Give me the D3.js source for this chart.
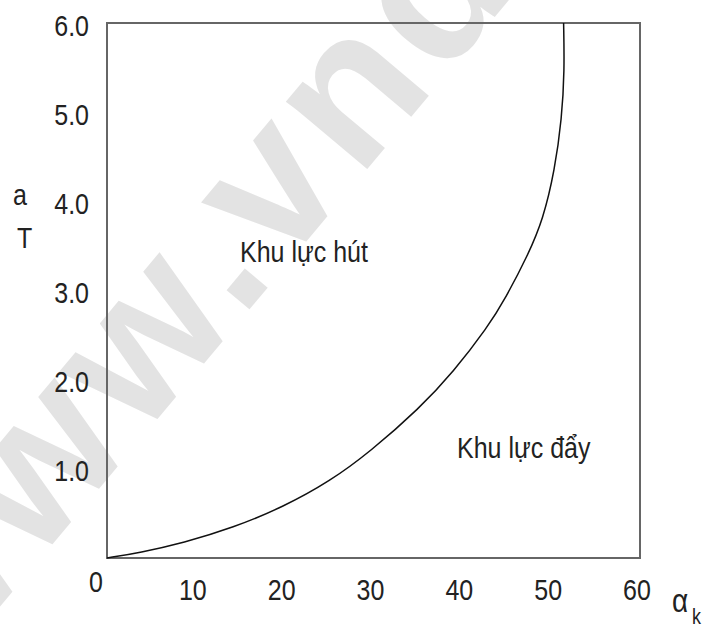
<!DOCTYPE html>
<html>
<head>
<meta charset="utf-8">
<script src="https://cdn.jsdelivr.net/npm/d3@7"></script>
<style>
  body { margin: 0; background: #fff; }
  svg text { font-family: "Liberation Sans", Arial, sans-serif; fill: #222; }
</style>
</head>
<body>
<svg id="chart" width="707" height="627"></svg>
<script>
// boundary curve between the two zones
const alphaK = [0, 3.7, 8.6, 14.2, 19.8, 25.1, 29.6, 35.2, 39.0, 42.8, 44.9, 47.4, 49.1, 50.4, 51.2, 51.5, 51.4];
const aOverT = [0, 0.06, 0.17, 0.34, 0.57, 0.86, 1.19, 1.68, 2.09, 2.58, 2.92, 3.40, 3.80, 4.35, 4.93, 5.47, 6.0];

const xTicks = [10, 20, 30, 40, 50, 60];
const yTicks = [1, 2, 3, 4, 5, 6];
const zoneLabels = ["Khu lực hút", "Khu lực đẩy"];

const svg = d3.select("#chart");
const stretch = 1.2; // the original image is stretched vertically

const x = d3.scaleLinear().domain([0, 60]).range([107, 640]);
const y = d3.scaleLinear().domain([0, 6]).range([558, 23]);

function label(tx, ty, str, size, anchor) {
  return svg.append("text")
    .attr("transform", `translate(${tx},${ty}) scale(1,${stretch})`)
    .attr("font-size", size)
    .attr("text-anchor", anchor || "start")
    .text(str);
}

// watermark
svg.append("text")
  .attr("transform", "translate(-70,690) rotate(-50)")
  .attr("font-size", 200)
  .attr("font-weight", "bold")
  .style("fill", "#e3e3e3")
  .attr("letter-spacing", 8)
  .text("www.vndoc.com");

// frame
svg.append("rect")
  .attr("x", x(0)).attr("y", y(6))
  .attr("width", x(60) - x(0)).attr("height", y(0) - y(6))
  .attr("fill", "none").attr("stroke", "#666").attr("stroke-width", 2);

// curve
const pts = alphaK.map((d, i) => [d, aOverT[i]]);
svg.append("path")
  .datum(pts)
  .attr("fill", "none")
  .attr("stroke", "#111")
  .attr("stroke-width", 1.5)
  .attr("d", d3.line().x(d => x(d[0])).y(d => y(d[1])).curve(d3.curveBasis));

// tick labels
yTicks.forEach(t => label(89, y(t) + 12.5, d3.format(".1f")(t), 25, "end"));
xTicks.forEach(t => label(x(t) - 3, 600, String(t), 25, "middle"));
label(96, 592, "0", 25, "middle");

// axis titles
label(13, 205, "a", 25);
label(17, 248, "T", 25);
label(672, 612, "α", 28);
label(692, 624, "k", 18);

// zone names
label(240, 262, zoneLabels[0], 25);
label(457, 458, zoneLabels[1], 25);
</script>
</body>
</html>
